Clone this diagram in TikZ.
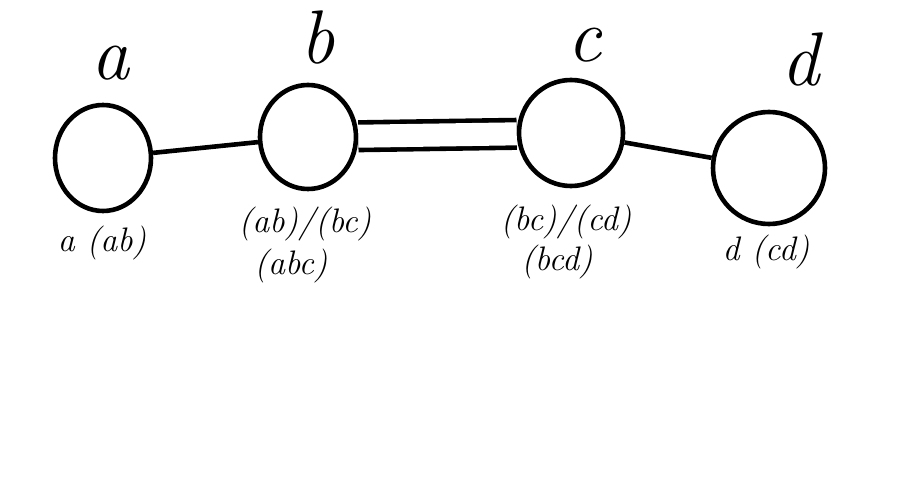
\documentclass[tikz,border=0pt]{standalone}
\usepackage{tikz}
\usetikzlibrary{shapes.geometric}
\tikzset{
	vertex/.style={draw, ellipse, line width=2.3pt, inner sep=0pt},
	namelabel/.style={font=\fontsize{38}{38}\selectfont\itshape, inner sep=0pt},
	setlabel/.style={font=\fontsize{17}{17}\selectfont\itshape, inner sep=0pt},
	edgeline/.style={line width=2.3pt},
	dualline/.style={line width=2.3pt, double, double distance=11.5pt},
}
\begin{document}
\begin{tikzpicture}[x=0.5pt, y=-0.5pt]
				\useasboundingbox (0,0) rectangle (924,486);
				\node[vertex, minimum width=48pt, minimum height=53pt] (va) at (103,158) {};
				\node[vertex, minimum width=48pt, minimum height=52pt] (vb) at (308,137) {};
				\node[vertex, minimum width=52pt, minimum height=53pt] (vc) at (571,133) {};
				\node[vertex, minimum width=56pt, minimum height=56pt] (vd) at (769,168) {};
				\draw[edgeline] (va) -- (vb);
				\draw[dualline] (vb) -- (vc);
				\draw[edgeline] (vc) -- (vd);
				\node[namelabel] (na) at (110,63) {a};
				\node[namelabel] (nb) at (318,38) {b};
				\node[namelabel] (nc) at (585,45) {c};
				\node[namelabel] (nd) at (800,60) {d};
				\node[setlabel] (sa) at (102,243) {a (ab)};
				\node[setlabel] (sb) at (305,224) {(ab)/(bc)};
				\node[setlabel] (sb2) at (291,266) {(abc)};
				\node[setlabel] (sc) at (566,222) {(bc)/(cd)};
				\node[setlabel] (sc2) at (557,262) {(bcd)};
				\node[setlabel] (sd) at (766,252) {d (cd)};
			\end{tikzpicture}
\end{document}
